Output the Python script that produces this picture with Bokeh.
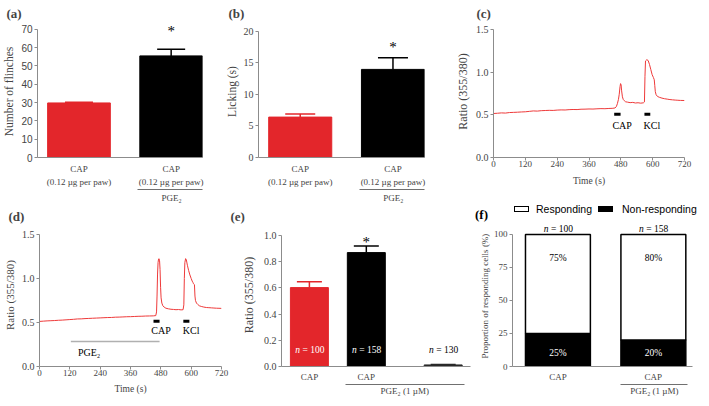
from bokeh.plotting import figure
from bokeh.layouts import row, column
from bokeh.models import (Range1d, FixedTicker, LinearAxis, Whisker, TeeHead, Title, Div,
                          ColumnDataSource, NumeralTickFormatter)
from bokeh.core.properties import value
from bokeh.embed import file_html
from bokeh.resources import INLINE

# ---------------- data ----------------
# (a) flinches
ab_labels = ["CAP", "CAP"]
ab_dose_labels = ["(0.12 µg per paw)", "(0.12 µg per paw)"]
ab_group_label = "PGE₂"
a_flinches = [29.8, 55.5]
a_flinches_sem = [0.4, 3.6]
a_star = 69.6
# (b) licking
b_licking = [6.4, 13.95]
b_licking_sem = [0.5, 1.85]
b_star = 17.6
# (c) calcium trace, CAP then KCl
c_time = [0, 15, 30, 45, 60, 75, 90, 105, 120, 135, 150, 165, 180, 195, 210, 225, 240, 255, 270,
          285, 300, 315, 330, 345, 360, 375, 390, 405, 420, 435, 450, 458, 463, 467, 471, 474, 477,
          479, 481, 483, 486, 489, 493, 498, 505, 515, 525, 535, 545, 555, 565, 569, 571, 573, 578,
          583, 588, 593, 598, 603, 606, 608, 610, 613, 618, 625, 635, 645, 655, 665, 675, 685, 695,
          705, 720]
c_ratio = [0.515, 0.518, 0.522, 0.520, 0.526, 0.528, 0.530, 0.533, 0.535, 0.540, 0.545, 0.543,
           0.548, 0.550, 0.552, 0.551, 0.555, 0.557, 0.556, 0.560, 0.562, 0.561, 0.565, 0.566,
           0.568, 0.567, 0.570, 0.572, 0.571, 0.574, 0.576, 0.580, 0.595, 0.63, 0.68, 0.74, 0.83,
           0.865, 0.85, 0.78, 0.71, 0.68, 0.665, 0.652, 0.648, 0.642, 0.645, 0.638, 0.641, 0.636,
           0.640, 0.65, 0.95, 1.13, 1.145, 1.135, 1.09, 1.03, 0.97, 0.935, 0.91, 0.84, 0.77, 0.735,
           0.715, 0.705, 0.695, 0.688, 0.683, 0.678, 0.675, 0.672, 0.670, 0.668, 0.667]
stim_names = ["CAP", "KCl"]
c_stim_start = [455, 569]
c_stim_end = [479, 591]
c_stim_level = 0.505
c_stim_text_x = [485, 597]
c_stim_text_y = 0.37
# (d) calcium trace with PGE2 pre-treatment
d_time = [0, 15, 30, 45, 60, 75, 90, 105, 120, 135, 150, 165, 180, 195, 210, 225, 240, 255, 270,
          285, 300, 315, 330, 345, 360, 375, 390, 405, 420, 435, 450, 460, 463, 465, 467, 469, 471,
          473, 475, 477, 479, 481, 484, 488, 493, 500, 510, 520, 530, 540, 550, 560, 568, 571, 573,
          575, 578, 581, 585, 590, 595, 600, 604, 607, 609, 611, 613, 615, 617, 621, 626, 632, 640,
          650, 660, 670, 680, 690, 700, 710, 720]
d_ratio = [0.512, 0.515, 0.518, 0.520, 0.522, 0.525, 0.527, 0.530, 0.533, 0.536, 0.540, 0.541,
           0.544, 0.546, 0.548, 0.550, 0.552, 0.554, 0.556, 0.557, 0.560, 0.561, 0.563, 0.565,
           0.566, 0.568, 0.570, 0.571, 0.573, 0.574, 0.575, 0.578, 0.62, 0.80, 1.05, 1.18, 1.22,
           1.225, 1.20, 1.10, 0.90, 0.78, 0.72, 0.69, 0.675, 0.662, 0.655, 0.650, 0.648, 0.645,
           0.647, 0.643, 0.645, 0.70, 1.00, 1.18, 1.225, 1.21, 1.15, 1.09, 1.04, 1.00, 0.97, 0.955,
           0.94, 0.935, 0.93, 0.80, 0.75, 0.72, 0.705, 0.69, 0.682, 0.675, 0.670, 0.668, 0.666,
           0.664, 0.662, 0.661, 0.660]
d_stim_start = [451, 569]
d_stim_end = [475, 593]
d_stim_level = 0.515
d_stim_text_x = [481, 600]
d_stim_text_y = 0.41
d_pge_start, d_pge_end, d_pge_level = 124, 475, 0.285
d_pge_text_x, d_pge_text_y = 152, 0.16
time_ticks = [0, 120, 240, 360, 480, 600, 720]
# (e) peak ratio
e_labels = ["CAP", "CAP"]
e_group_label = "PGE₂ (1 µM)"
e_ratio = [0.602, 0.869, 0.012]
e_sem = [0.045, 0.05, 0.004]
e_n = [100, 158, 130]
e_star = 0.96
e_n_y = 0.126
# (f) proportion of responding cells
f_labels = ["CAP", "CAP"]
f_group_label = "PGE₂ (1 µM)"
f_series = ["Responding", "Non-responding"]
f_nonresp = [25, 20]
f_resp = [75, 80]
f_n = [100, 158]
f_resp_text_y = 82.5
f_nonresp_text_y = 10.3
f_n_y = 104.5

# ---------------- style ----------------
SERIF = "Liberation Serif"
SANS = "Liberation Sans"
GRAY = "#8c8c8c"
RED = "#e3262b"
TRACE = "#ee3a3a"
BW = 0.68
TITLE_H = 11.5   # measured box height of a 13px bold title


def make_fig(w, h, xr, yr, l, r, t, b):
    p = figure(width=w, height=h, x_range=Range1d(*xr), y_range=Range1d(*yr), title=None,
               output_backend="svg", toolbar_location=None,
               min_border_left=l, min_border_right=r, min_border_top=t, min_border_bottom=b)
    p.grid.visible = False
    p.outline_line_color = None
    return p


def style_y(p, ticks, label, label_size, tick_font=SERIF, fmt=None, tick_size="10px"):
    ax = p.yaxis[0]
    ax.ticker = FixedTicker(ticks=ticks)
    ax.bounds = (ticks[0], ticks[-1])
    if fmt:
        ax.formatter = NumeralTickFormatter(format=fmt)
    ax.axis_label = label
    ax.axis_label_text_font = SERIF
    ax.axis_label_text_font_style = "normal"
    ax.axis_label_text_font_size = label_size
    ax.axis_label_standoff = 3
    ax.major_label_text_font = tick_font
    ax.major_label_text_font_size = tick_size
    ax.major_label_standoff = 2
    ax.axis_line_color = GRAY
    ax.major_tick_line_color = GRAY
    ax.major_tick_out = 3
    ax.major_tick_in = 0
    ax.minor_tick_line_color = None
    ax.minor_tick_out = 0
    ax.minor_tick_in = 0
    return ax


def plain_axis(ax, ticks, labels, standoff, line_color, bounds=None, size="9px"):
    ax.ticker = FixedTicker(ticks=ticks)
    ax.major_label_overrides = {t: s for t, s in zip(ticks, labels)}
    if bounds is not None:
        ax.bounds = bounds
    ax.axis_line_color = line_color
    ax.major_tick_line_color = None
    ax.major_tick_out = 0
    ax.major_tick_in = 0
    ax.minor_tick_line_color = None
    ax.minor_tick_out = 0
    ax.minor_tick_in = 0
    ax.axis_label = None
    ax.axis_label_standoff = 0
    ax.major_label_text_font = SERIF
    ax.major_label_text_font_size = size
    ax.major_label_standoff = standoff
    return ax


def extra_axis(p, ticks, labels, standoff, line_color, bounds=None, size="9px"):
    ax = LinearAxis()
    plain_axis(ax, ticks, labels, standoff, line_color, bounds, size)
    p.add_layout(ax, "below")
    return ax


def style_x_time(p, label_standoff):
    ax = p.xaxis[0]
    ax.ticker = FixedTicker(ticks=time_ticks)
    ax.axis_line_color = GRAY
    ax.major_tick_line_color = GRAY
    ax.major_tick_out = 3
    ax.major_tick_in = 0
    ax.minor_tick_line_color = None
    ax.minor_tick_out = 0
    ax.minor_tick_in = 0
    ax.major_label_text_font = SERIF
    ax.major_label_text_font_size = "9px"
    ax.major_label_standoff = 0
    ax.axis_label = "Time (s)"
    ax.axis_label_text_font = SERIF
    ax.axis_label_text_font_style = "normal"
    ax.axis_label_text_font_size = "9.5px"
    ax.axis_label_standoff = label_standoff


def add_whisker(p, x, v, e, color, size):
    src = ColumnDataSource(dict(base=[x], lower=[v], upper=[v + e]))
    p.add_layout(Whisker(base="base", lower="lower", upper="upper", source=src,
                         dimension="height", lower_head=None,
                         upper_head=TeeHead(size=size, line_color=color, line_width=1.5),
                         line_color=color, line_width=1.5))


def letter(p, text, offset, size):
    # title box of height `size` right above the frame, text centred in it
    p.add_layout(Title(text=text, align="left", offset=offset, standoff=size - 2 - TITLE_H,
                       vertical_align="middle", text_font=SERIF, text_font_style="bold",
                       text_font_size="13px"), "above")


def star(p, x, y):
    p.text(x=[x], y=[y], text=["*"], text_font=value(SERIF), text_font_size="15px",
           text_align="center", text_baseline="middle", y_offset=1)


def n_labels(p, xs, ys, ns, colors):
    src = ColumnDataSource(dict(x=xs, y=ys, n=["n"] * len(xs),
                                rest=[f"= {v}" for v in ns], c=colors))
    p.text(x="x", y="y", text="n", source=src, text_font=value(SERIF),
           text_font_style="italic", text_font_size="9.5px", text_align="right",
           text_baseline="middle", x_offset=-9.5, text_color="c")
    p.text(x="x", y="y", text="rest", source=src, text_font=value(SERIF),
           text_font_size="9.5px", text_align="left", text_baseline="middle",
           x_offset=-7, text_color="c")


bar_x = list(range(len(a_flinches)))
grp_lo = bar_x[1] - BW / 2 - 0.02
grp_hi = bar_x[1] + BW / 2 + 0.03

# ---------------- row 1: height 205, top 21, bottom 47 ----------------
# (a)
pa = make_fig(222, 205, (-0.45, 1.34), (0, 72.1), 32, 20, 21, 47)
pa.vbar(x=bar_x, top=a_flinches, width=BW, color=[RED, "black"])
for x, v, e, c in zip(bar_x, a_flinches, a_flinches_sem, [RED, "black"]):
    add_whisker(pa, x, v, e, c, 28)
star(pa, bar_x[1], a_star)
style_y(pa, [0, 10, 20, 30, 40, 50, 60, 70], "Number of flinches", "11.5px", tick_font=SANS)
plain_axis(pa.xaxis[0], bar_x, ab_labels, 6, GRAY)
extra_axis(pa, bar_x, ab_dose_labels, 0, None)
extra_axis(pa, [(grp_lo + grp_hi) / 2], [ab_group_label], 3, "#707070", (grp_lo, grp_hi))
letter(pa, "(a)", -31, 21)

# (b)
pb = make_fig(230, 205, (-0.45, 1.34), (0, 20.9), 31, 28, 21, 47)
pb.vbar(x=bar_x, top=b_licking, width=BW, color=[RED, "black"])
for x, v, e, c in zip(bar_x, b_licking, b_licking_sem, [RED, "black"]):
    add_whisker(pb, x, v, e, c, 30)
star(pb, bar_x[1], b_star)
style_y(pb, [0, 5, 10, 15, 20], "Licking (s)", "11.5px")
plain_axis(pb.xaxis[0], bar_x, ab_labels, 6, GRAY)
extra_axis(pb, bar_x, ab_dose_labels, 0, None)
extra_axis(pb, [(grp_lo + grp_hi) / 2], [ab_group_label], 3, "#707070", (grp_lo, grp_hi))
letter(pb, "(b)", -30, 21)

# (c)
pc = make_fig(241, 205, (0, 720), (0, 1.545), 34, 9, 21, 47)
pc.line(c_time, c_ratio, color=TRACE, line_width=1)
pc.segment(x0=c_stim_start, y0=[c_stim_level] * 2, x1=c_stim_end, y1=[c_stim_level] * 2,
           color="black", line_width=3)
pc.text(x=c_stim_text_x, y=[c_stim_text_y] * 2, text=stim_names, text_font=value(SERIF),
        text_font_size="10px", text_align="center", text_baseline="middle")
style_y(pc, [0, 0.5, 1.0, 1.5], "Ratio (355/380)", "12px", fmt="0.0")
style_x_time(pc, 6)
letter(pc, "(c)", -17, 21)

# ---------------- row 2: height 193, top 18, bottom 31 ----------------
# (d)
pd_ = make_fig(229, 193, (0, 720), (0, 1.624), 32, 8, 18, 31)
pd_.line(d_time, d_ratio, color=TRACE, line_width=1)
pd_.segment(x0=d_stim_start, y0=[d_stim_level] * 2, x1=d_stim_end, y1=[d_stim_level] * 2,
            color="black", line_width=3)
pd_.text(x=d_stim_text_x, y=[d_stim_text_y] * 2, text=stim_names, text_font=value(SERIF),
         text_font_size="10px", text_align="center", text_baseline="middle")
pd_.segment(x0=[d_pge_start], y0=[d_pge_level], x1=[d_pge_end], y1=[d_pge_level],
            color="#b0b0b0", line_width=1.5)
pd_.text(x=[d_pge_text_x], y=[d_pge_text_y], text=["PGE₂"], text_font=value(SERIF),
         text_font_size="10px", text_align="left", text_baseline="middle")
style_y(pd_, [0, 0.5, 1.0, 1.5], "Ratio (355/380)", "11px", fmt="0.0")
style_x_time(pd_, 5)
letter(pd_, "(d)", -31, 10)

# (e)
e_gap = 0.35
e_x = [i + (e_gap if i >= 2 else 0) for i in range(len(e_ratio))]
e_colors = [RED, "black", "#2a2a2a"]
pe = make_fig(245, 193, (-0.49, 2.83), (0, 1.091), 52, 4, 18, 31)
pe.vbar(x=e_x, top=e_ratio, width=0.667, color=e_colors)
for x, v, e, c in zip(e_x, e_ratio, e_sem, e_colors):
    add_whisker(pe, x, v, e, c, 25)
star(pe, e_x[1], e_star)
n_labels(pe, e_x, [e_n_y] * 3, e_n, ["white", "white", "black"])
ay = style_y(pe, [0, 0.2, 0.4, 0.6, 0.8, 1.0], "Ratio (355/380)", "12px", fmt="0.0")
ay.axis_label_standoff = 5
plain_axis(pe.xaxis[0], e_x[:2], e_labels, 5, GRAY)
e_lo, e_hi = e_x[1] - 0.333 - 0.04, e_x[2] + 0.333 + 0.04
extra_axis(pe, [(e_lo + e_hi) / 2], [e_group_label], 1, "#707070", (e_lo, e_hi))
letter(pe, "(e)", -51, 10)

# (f) : legend strip + plot
f_x = list(range(len(f_resp)))
pf = make_fig(219, 175, (-0.476, 1.41), (0, 108.3), 38, 1, 0, 31)
src_f = ColumnDataSource(dict(x=f_x, nonresp=f_nonresp, resp=f_resp))
rs = pf.vbar_stack(["nonresp", "resp"], x="x", width=BW, source=src_f,
                   fill_color=["black", "white"], line_color="black", line_width=1.5)
pf.text(x=f_x, y=[f_resp_text_y] * 2, text=[f"{v}%" for v in f_resp], text_font=value(SERIF),
        text_font_size="9.5px", text_align="center", text_baseline="middle")
pf.text(x=f_x, y=[f_nonresp_text_y] * 2, text=[f"{v}%" for v in f_nonresp],
        text_font=value(SERIF), text_font_size="9.5px", text_align="center",
        text_baseline="middle", text_color="white")
n_labels(pf, f_x, [f_n_y] * 2, f_n, ["black", "black"])
fy = style_y(pf, [0, 25, 50, 75, 100], "Proportion of responding cells  (%)", "9px",
             tick_size="9px")
fy.axis_label_standoff = 1
plain_axis(pf.xaxis[0], f_x, f_labels, 5, GRAY)
f_lo, f_hi = f_x[1] - BW / 2, f_x[1] + BW / 2 + 0.02
extra_axis(pf, [(f_lo + f_hi) / 2], [f_group_label], 1, "#707070", (f_lo, f_hi))

box = "position:absolute;top:1px;width:15px;height:6px;border:1px solid #000;"
txt = ("position:absolute;top:-1px;line-height:11px;font-family:'Liberation Sans';"
       "font-size:10.5px;color:#000;white-space:nowrap;")
legend_html = (
    "<div style='position:relative;width:219px;height:18px;overflow:visible;'>"
    "<span style=\"position:absolute;left:1px;top:3px;line-height:14px;font-family:'Liberation Serif';"
    "font-weight:bold;font-size:13px;color:#000;\">(f)</span>"
    f"<span style='{box}left:40px;background:#fff;'></span>"
    f"<span style=\"{txt}left:62px;\">{f_series[0]}</span>"
    f"<span style='{box}left:124px;background:#000;'></span>"
    f"<span style=\"{txt}left:148px;\">{f_series[1]}</span>"
    "</div>"
)
f_legend = Div(text=legend_html, width=219, height=18, margin=0)

layout = column(row(pa, pb, pc), row(pd_, pe, column(f_legend, pf)))
open("out.html", "w").write(file_html(layout, INLINE))
